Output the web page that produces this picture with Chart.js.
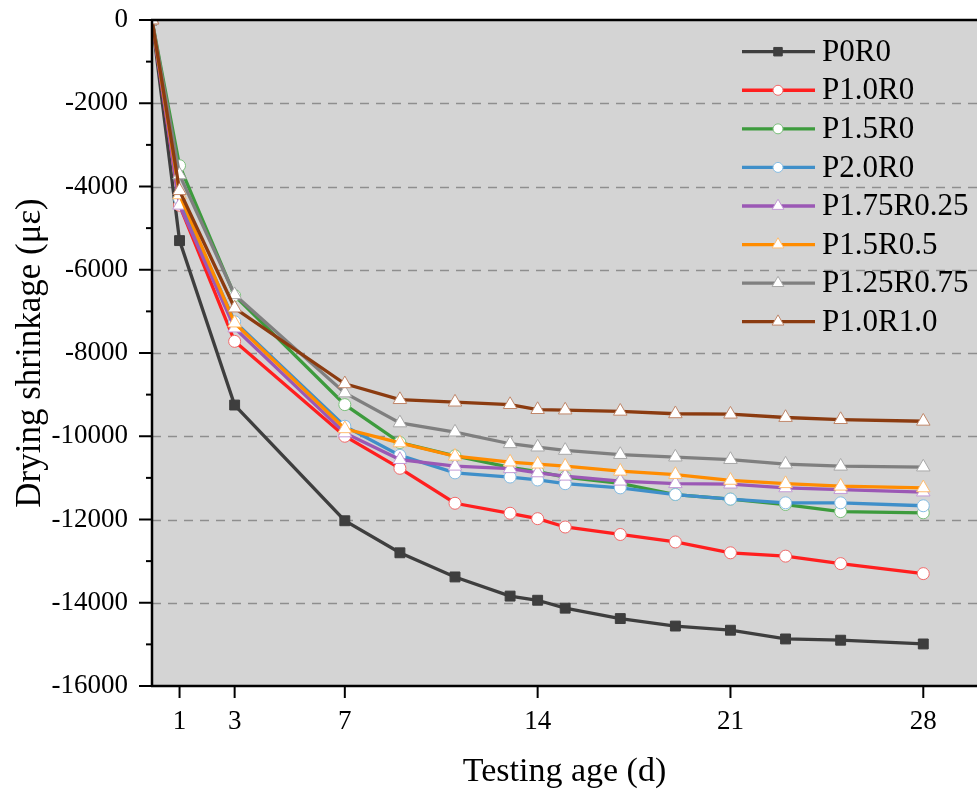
<!DOCTYPE html>
<html>
<head>
<meta charset="utf-8">
<script src="https://cdn.jsdelivr.net/npm/chart.js@4/dist/chart.umd.min.js"></script>
<style>
html,body{margin:0;padding:0;background:#fff;}
#wrap{width:977px;height:796px;position:relative;}
</style>
</head>
<body>
<div id="wrap"><canvas id="c" width="977" height="796"></canvas></div>
<script>
// ---- data ----
const ages = [0, 1, 3, 7, 9, 11, 13, 14, 15, 17, 19, 21, 23, 25, 28];
const xTickValues = [1, 3, 7, 14, 21, 28];
const seriesNames = ["P0R0", "P1.0R0", "P1.5R0", "P2.0R0", "P1.75R0.25", "P1.5R0.5", "P1.25R0.75", "P1.0R1.0"];
const P0R0      = [0, -5300, -9250, -12030, -12800, -13380, -13840, -13940, -14130, -14380, -14560, -14660, -14870, -14900, -14990];
const P1_0R0    = [0, -4450, -7720, -10000, -10770, -11610, -11850, -11980, -12180, -12360, -12540, -12800, -12880, -13060, -13300];
const P1_5R0    = [0, -3500, -6620, -9240, -10150, -10470, -10750, -10850, -10980, -11130, -11400, -11510, -11640, -11810, -11840];
const P2_0R0    = [0, -4300, -7250, -9760, -10460, -10880, -10980, -11050, -11140, -11240, -11400, -11510, -11600, -11600, -11670];
const P1_75R0_25 = [0, -4450, -7400, -9920, -10560, -10720, -10780, -10880, -10960, -11080, -11140, -11150, -11240, -11280, -11340];
const P1_5R0_5  = [0, -4200, -7280, -9820, -10160, -10480, -10620, -10670, -10720, -10840, -10920, -11060, -11140, -11200, -11240];
const P1_25R0_75 = [0, -3720, -6600, -8960, -9680, -9900, -10180, -10260, -10340, -10440, -10500, -10560, -10670, -10720, -10740];
const P1_0R1_0  = [0, -4100, -6920, -8740, -9120, -9180, -9240, -9360, -9370, -9400, -9460, -9470, -9550, -9600, -9640];
const seriesValues = [P0R0, P1_0R0, P1_5R0, P2_0R0, P1_75R0_25, P1_5R0_5, P1_25R0_75, P1_0R1_0];

// ---- styles ----
const lineColors   = ["#3e3e3e", "#ff1f1f", "#3d9b3d", "#3f8fc9", "#9b58b5", "#ff8c00", "#7f7f7f", "#8b3b10"];
const markerBorder = ["#3e3e3e", "#f26a6a", "#7cc07c", "#86bde3", "#c49bd6", "#ffbd70", "#a8a8a8", "#c0876a"];
const markerFill   = ["#3e3e3e", "#ffffff", "#ffffff", "#ffffff", "#ffffff", "#ffffff", "#ffffff", "#ffffff"];
const markerStyle  = ["rect", "circle", "circle", "circle", "triangle", "triangle", "triangle", "triangle"];
const markerRadius = [7, 6, 6, 6, 7.8, 7.8, 7.8, 7.8];

const FONT = "'Liberation Serif', 'Times New Roman', serif";

const datasets = seriesNames.map((name, i) => ({
  label: name,
  data: ages.map((a, j) => ({x: a, y: seriesValues[i][j]})),
  borderColor: lineColors[i],
  backgroundColor: lineColors[i],
  borderWidth: 3.3,
  pointStyle: markerStyle[i],
  pointRadius: markerRadius[i],
  pointHoverRadius: markerRadius[i],
  pointBackgroundColor: markerFill[i],
  pointBorderColor: markerBorder[i],
  pointBorderWidth: 1,
  tension: 0,
  fill: false,
  order: seriesNames.length - i
}));

function drawMarker(ctx, style, x, y, r, fill, stroke) {
  ctx.save();
  ctx.fillStyle = fill; ctx.strokeStyle = stroke; ctx.lineWidth = 1;
  ctx.beginPath();
  if (style === 'rect') {
    const s = r * Math.SQRT1_2;
    ctx.rect(x - s, y - s, 2 * s, 2 * s);
  } else if (style === 'circle') {
    ctx.arc(x, y, r, 0, Math.PI * 2);
  } else {
    for (let k = 0; k < 3; k++) {
      const a = k * 2 * Math.PI / 3;
      const px = x + Math.sin(a) * r, py = y - Math.cos(a) * r;
      if (k === 0) ctx.moveTo(px, py); else ctx.lineTo(px, py);
    }
    ctx.closePath();
  }
  ctx.fill(); ctx.stroke();
  ctx.restore();
}

const framePlugin = {
  id: 'frame',
  beforeDraw(chart) {
    const {ctx, chartArea: ca} = chart;
    ctx.save();
    ctx.fillStyle = '#d4d4d4';
    ctx.fillRect(ca.left, ca.top, ca.right - ca.left, ca.bottom - ca.top);
    ctx.restore();
  },
  beforeDatasetsDraw(chart) {
    const {ctx, chartArea: ca, scales: {y}} = chart;
    ctx.save();
    ctx.strokeStyle = '#8e8e8e';
    ctx.lineWidth = 1.5;
    ctx.setLineDash([9, 7]);
    for (let v = -2000; v >= -14000; v -= 2000) {
      const py = Math.round(y.getPixelForValue(v)) + 0.5;
      ctx.beginPath(); ctx.moveTo(ca.left, py); ctx.lineTo(ca.right, py); ctx.stroke();
    }
    ctx.restore();
  },
  afterDatasetsDraw(chart) {
    const {ctx, chartArea: ca, scales: {x, y}} = chart;
    ctx.save();
    ctx.strokeStyle = '#000';
    ctx.lineWidth = 2.5;
    ctx.setLineDash([]);
    // axes lines
    ctx.beginPath();
    ctx.moveTo(ca.left, ca.top); ctx.lineTo(ca.left, ca.bottom + 1);
    ctx.moveTo(ca.left - 1, ca.bottom); ctx.lineTo(ca.right, ca.bottom);
    ctx.moveTo(ca.left - 1, ca.top); ctx.lineTo(ca.right, ca.top);
    ctx.stroke();
    // y ticks
    ctx.lineWidth = 2;
    y.ticks.forEach(t => {
      const py = y.getPixelForValue(t.value);
      const major = Math.round(t.value) % 2000 === 0;
      ctx.beginPath();
      ctx.moveTo(ca.left - (major ? 13 : 6), py); ctx.lineTo(ca.left, py);
      ctx.stroke();
    });
    // x ticks
    x.ticks.forEach(t => {
      const px = x.getPixelForValue(t.value);
      ctx.beginPath();
      ctx.moveTo(px, ca.bottom); ctx.lineTo(px, ca.bottom + 12);
      ctx.stroke();
    });
    ctx.restore();

    // legend
    ctx.save();
    const top = 51.7, step = 38.57;
    seriesNames.forEach((name, i) => {
      const ly = top + i * step;
      ctx.strokeStyle = lineColors[i];
      ctx.lineWidth = 3.3;
      ctx.beginPath(); ctx.moveTo(742, ly); ctx.lineTo(815, ly); ctx.stroke();
      drawMarker(ctx, markerStyle[i], 778, ly, markerRadius[i] - 1, markerFill[i], markerBorder[i]);
      ctx.fillStyle = '#000';
      ctx.font = '31px ' + FONT;
      ctx.textAlign = 'left';
      ctx.textBaseline = 'middle';
      ctx.fillText(name, 822, ly + 1);
    });
    ctx.restore();
  }
};

new Chart(document.getElementById('c'), {
  type: 'line',
  data: {datasets},
  plugins: [framePlugin],
  options: {
    responsive: false,
    devicePixelRatio: 1,
    animation: false,
    layout: {autoPadding: false, padding: {top: 20, right: 0, bottom: 0, left: 0}},
    plugins: {legend: {display: false}, tooltip: {enabled: false}, title: {display: false}},
    scales: {
      x: {
        type: 'linear',
        min: 0,
        max: 29.95,
        afterBuildTicks: s => { s.ticks = xTickValues.map(v => ({value: v})); },
        afterFit: s => { s.height = 110; s.paddingLeft = 0; s.paddingRight = 0; },
        grid: {display: false, drawTicks: false},
        border: {display: false},
        ticks: {
          autoSkip: false, maxRotation: 0, padding: 20, color: '#000',
          font: {family: FONT, size: 27},
          callback: v => String(v)
        },
        title: {
          display: true, text: 'Testing age (d)', color: '#000',
          font: {family: FONT, size: 34}, padding: {top: 0, bottom: 4}
        }
      },
      y: {
        type: 'linear',
        min: -16000,
        max: 0,
        afterFit: s => { s.width = 152; s.paddingTop = 0; s.paddingBottom = 0; },
        grid: {display: false, drawTicks: false},
        border: {display: false},
        ticks: {
          stepSize: 1000, autoSkip: false, padding: 24, color: '#000',
          font: {family: FONT, size: 27},
          callback: v => (Math.round(v) % 2000 === 0 ? String(Math.round(v)) : '')
        },
        title: {
          display: true, text: 'Drying shrinkage (με)', color: '#000',
          font: {family: FONT, size: 35}, padding: {top: 10, bottom: 0}
        }
      }
    }
  }
});
</script>
</body>
</html>
